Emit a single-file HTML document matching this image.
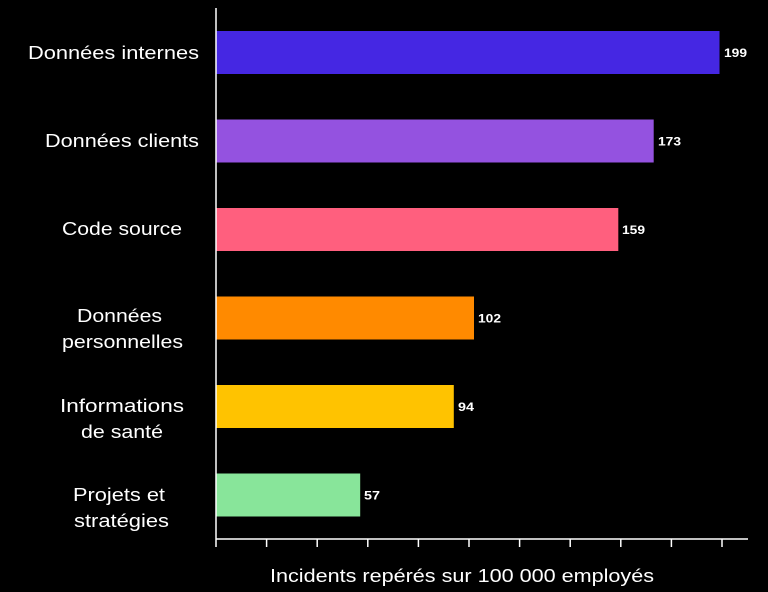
<!DOCTYPE html>
<html><head><meta charset="utf-8"><style>
html,body{margin:0;padding:0;background:#000;}
</style></head><body>
<svg width="768" height="592" xmlns="http://www.w3.org/2000/svg" style="display:block">
<rect width="768" height="592" fill="#000"/>
<g font-family="'Liberation Sans', sans-serif">
<rect x="216" y="31" width="503.5" height="43" fill="#4527e3"/>
<rect x="216" y="119.5" width="437.7" height="43" fill="#9452e0"/>
<rect x="216" y="208" width="402.3" height="43" fill="#ff5f7e"/>
<rect x="216" y="296.5" width="258" height="43" fill="#ff8a00"/>
<rect x="216" y="385" width="237.8" height="43" fill="#ffc300"/>
<rect x="216" y="473.5" width="144.2" height="43" fill="#88e59a"/>
<g fill="#fff" font-size="12" font-weight="bold">
<text x="724" y="57" textLength="23" lengthAdjust="spacingAndGlyphs">199</text>
<text x="658" y="145.5" textLength="23" lengthAdjust="spacingAndGlyphs">173</text>
<text x="622" y="234" textLength="23" lengthAdjust="spacingAndGlyphs">159</text>
<text x="478" y="322.5" textLength="23" lengthAdjust="spacingAndGlyphs">102</text>
<text x="458" y="411" textLength="16" lengthAdjust="spacingAndGlyphs">94</text>
<text x="364" y="499.5" textLength="16" lengthAdjust="spacingAndGlyphs">57</text>
</g>
<g stroke="#fff" stroke-width="1.5">
<line x1="216" y1="8" x2="216" y2="547"/>
<line x1="216" y1="539" x2="748" y2="539"/>
<line x1="266.6" y1="539" x2="266.6" y2="547"/>
<line x1="317.2" y1="539" x2="317.2" y2="547"/>
<line x1="367.8" y1="539" x2="367.8" y2="547"/>
<line x1="418.4" y1="539" x2="418.4" y2="547"/>
<line x1="469" y1="539" x2="469" y2="547"/>
<line x1="519.6" y1="539" x2="519.6" y2="547"/>
<line x1="570.2" y1="539" x2="570.2" y2="547"/>
<line x1="620.8" y1="539" x2="620.8" y2="547"/>
<line x1="671.4" y1="539" x2="671.4" y2="547"/>
<line x1="722" y1="539" x2="722" y2="547"/>
</g>
<g fill="#fff" font-size="18" lengthAdjust="spacingAndGlyphs">
<text x="28" y="59" textLength="171" lengthAdjust="spacingAndGlyphs">Données internes</text>
<text x="45" y="147" textLength="154" lengthAdjust="spacingAndGlyphs">Données clients</text>
<text x="62" y="235" textLength="120" lengthAdjust="spacingAndGlyphs">Code source</text>
<text x="77" y="322" textLength="85" lengthAdjust="spacingAndGlyphs">Données</text>
<text x="62" y="348" textLength="121" lengthAdjust="spacingAndGlyphs">personnelles</text>
<text x="60" y="412" textLength="124" lengthAdjust="spacingAndGlyphs">Informations</text>
<text x="81" y="438" textLength="82" lengthAdjust="spacingAndGlyphs">de santé</text>
<text x="73" y="501" textLength="92" lengthAdjust="spacingAndGlyphs">Projets et</text>
<text x="74" y="527" textLength="95" lengthAdjust="spacingAndGlyphs">stratégies</text>
<text x="270" y="582" textLength="384" lengthAdjust="spacingAndGlyphs">Incidents repérés sur 100 000 employés</text>
</g>
</g>
</svg>
</body></html>
